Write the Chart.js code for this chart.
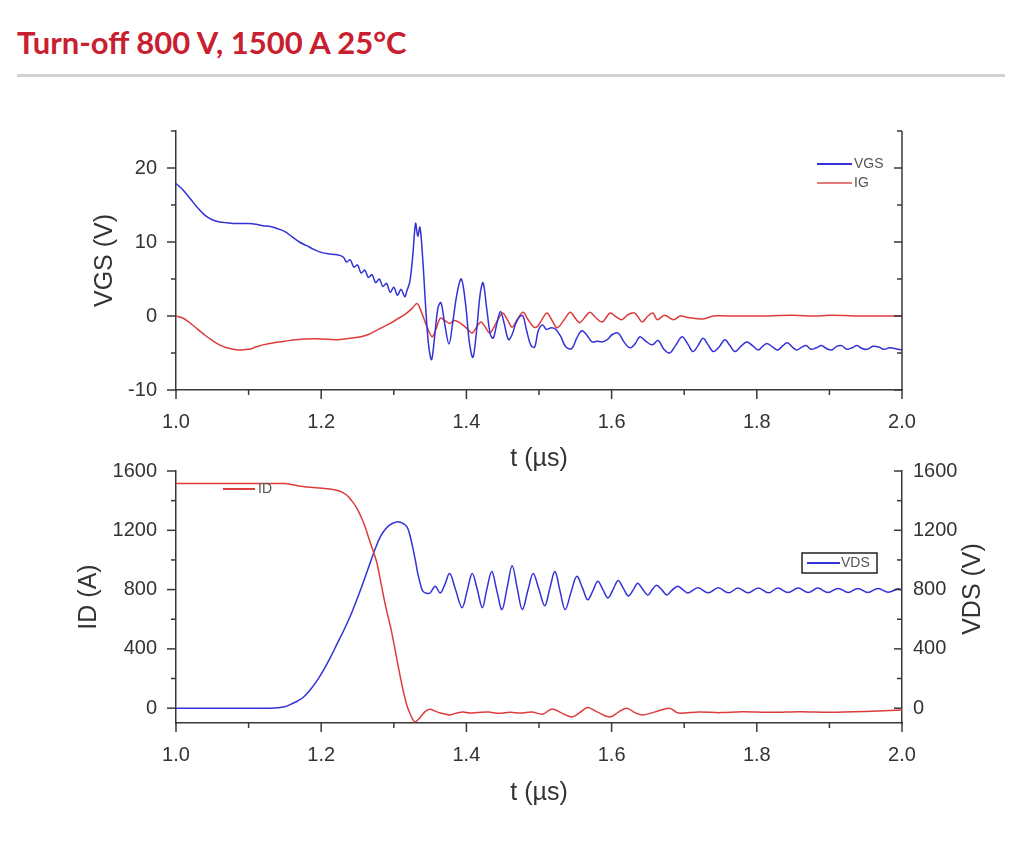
<!DOCTYPE html>
<html>
<head>
<meta charset="utf-8">
<title>Turn-off 800 V, 1500 A 25°C</title>
<script src="https://cdn.jsdelivr.net/npm/chart.js@4.4.0/dist/chart.umd.min.js"></script>
<style>
  body { margin: 0; background: #fff; width: 1034px; height: 846px; position: relative; overflow: hidden; }
  h1 { position: absolute; left: 17px; top: 23px; margin: 0; font: bold 31px Lato, sans-serif; color: #c8202f; white-space: nowrap; }
  .rule { position: absolute; left: 17px; top: 74px; width: 988px; height: 3px; background: #d2d2d2; }
  canvas { position: absolute; left: 0; }
  #topChart { top: 100px; }
  #bottomChart { top: 440px; }
</style>
</head>
<body>
<h1>Turn-off 800 V, 1500 A 25°C</h1>
<div class="rule"></div>
<canvas id="topChart" width="1034" height="380"></canvas>
<canvas id="bottomChart" width="1034" height="380"></canvas>
<script>
// axis ticks
const tMajor = [1.0, 1.2, 1.4, 1.6, 1.8, 2.0];
const tMinor = [1.1, 1.3, 1.5, 1.7, 1.9];
const vgsMajor = [-10, 0, 10, 20];
const vgsMinor = [-5, 5, 15, 25];
const idMajor = [0, 400, 800, 1200, 1600];
const idMinor = [200, 600, 1000, 1400];

// VGS (V) vs t (µs)
const vgsT = [1.000, 1.010, 1.020, 1.030, 1.040, 1.050, 1.060, 1.070, 1.085, 1.100, 1.110, 1.120, 1.130, 1.140, 1.150,
  1.160, 1.170, 1.180, 1.190, 1.200, 1.210, 1.220, 1.230, 1.235, 1.240, 1.245, 1.250, 1.255, 1.260, 1.265, 1.270,
  1.275, 1.280, 1.285, 1.290, 1.295, 1.300, 1.305, 1.310, 1.315, 1.318, 1.322, 1.326, 1.330, 1.333, 1.336, 1.340,
  1.344, 1.348, 1.352, 1.356, 1.361, 1.365, 1.370, 1.376, 1.381, 1.387, 1.393, 1.399, 1.404, 1.409, 1.414, 1.419,
  1.423, 1.428, 1.433, 1.437, 1.442, 1.447, 1.452, 1.458, 1.463, 1.468, 1.474, 1.478, 1.483, 1.489, 1.494, 1.499,
  1.505, 1.510, 1.517, 1.523, 1.530, 1.537, 1.545, 1.552, 1.559, 1.566, 1.573, 1.580, 1.587, 1.594, 1.601, 1.609,
  1.617, 1.625, 1.632, 1.639, 1.647, 1.656, 1.664, 1.672, 1.680, 1.688, 1.697, 1.705, 1.712, 1.719, 1.726, 1.733,
  1.740, 1.748, 1.756, 1.763, 1.770, 1.778, 1.786, 1.794, 1.802, 1.808, 1.814, 1.822, 1.829, 1.836, 1.842, 1.849,
  1.855, 1.862, 1.868, 1.875, 1.882, 1.889, 1.896, 1.903, 1.910, 1.917, 1.924, 1.931, 1.938, 1.945, 1.952, 1.960,
  1.968, 1.975, 1.983, 1.990, 2.000];
const vgsV = [17.9, 17.0, 15.8, 14.6, 13.6, 13.0, 12.7, 12.6, 12.5, 12.5, 12.4, 12.2, 12.1, 11.8, 11.4,
  10.7, 10.0, 9.5, 9.0, 8.6, 8.4, 8.3, 8.0, 7.3, 7.6, 6.6, 6.9, 5.8, 6.2, 5.2, 5.6,
  4.5, 5.0, 4.0, 4.4, 3.2, 3.9, 2.8, 3.6, 2.6, 3.4, 4.6, 8.0, 12.5, 10.8, 12.0, 7.5,
  1.0, -4.0, -5.9, -3.0, 1.2, 1.8, -1.0, -3.8, -1.0, 3.0, 5.0, 1.5, -3.5, -5.6, -2.0, 3.0,
  4.5, 1.0, -2.5, -3.0, -1.0, 0.6, -1.0, -3.2, -2.5, -1.0, 0.0, 0.0, -2.0, -4.0, -4.2, -2.0,
  -1.2, -1.8, -1.6, -1.8, -2.8, -4.2, -4.4, -3.0, -2.0, -2.6, -3.5, -3.4, -3.5, -3.2, -2.5, -2.3,
  -3.5, -4.3, -3.8, -2.8, -3.4, -3.9, -3.3, -4.5, -5.0, -4.0, -2.8, -3.8, -4.8, -4.0, -3.0, -3.9,
  -4.8, -4.2, -3.2, -4.0, -4.8, -4.1, -3.5, -4.0, -4.6, -4.1, -3.7, -4.2, -4.6, -4.0, -3.6, -4.2,
  -4.6, -4.2, -4.0, -4.5, -4.3, -4.0, -4.4, -4.6, -4.1, -4.0, -4.5, -4.3, -4.0, -4.4, -4.5, -4.1,
  -4.2, -4.5, -4.3, -4.4, -4.6];

// IG, same axis as VGS
const igT = [1.000, 1.010, 1.020, 1.030, 1.040, 1.050, 1.060, 1.070, 1.085, 1.100, 1.110, 1.120, 1.135, 1.150, 1.165,
  1.180, 1.200, 1.220, 1.240, 1.255, 1.265, 1.275, 1.285, 1.295, 1.305, 1.315, 1.325, 1.332, 1.337, 1.342, 1.348,
  1.353, 1.358, 1.364, 1.370, 1.377, 1.383, 1.389, 1.395, 1.402, 1.408, 1.414, 1.420, 1.426, 1.432, 1.438, 1.444,
  1.450, 1.457, 1.463, 1.470, 1.478, 1.485, 1.493, 1.498, 1.504, 1.511, 1.518, 1.525, 1.534, 1.543, 1.550, 1.556,
  1.563, 1.570, 1.578, 1.587, 1.598, 1.606, 1.614, 1.623, 1.632, 1.642, 1.650, 1.657, 1.663, 1.673, 1.685, 1.695,
  1.705, 1.726, 1.740, 1.760, 1.800, 1.850, 1.880, 1.900, 1.950, 2.000];
const igV = [0.0, -0.3, -1.0, -1.8, -2.6, -3.3, -3.9, -4.3, -4.6, -4.5, -4.2, -3.9, -3.6, -3.4, -3.2,
  -3.1, -3.1, -3.2, -3.0, -2.8, -2.5, -2.0, -1.5, -1.0, -0.4, 0.2, 1.0, 1.7, 0.8, -0.5, -2.0,
  -2.8, -1.8, -0.3, -0.6, -1.0, -0.6, -0.8, -1.2, -1.8, -2.3, -1.5, -0.8, -1.5, -2.3, -1.5, -0.4,
  0.4, -0.6, -1.5, -0.5, 0.5, -0.5, -1.5, -1.4, -0.5, 0.4, -0.6, -1.6, -0.6, 0.5, -0.3, -0.9,
  -0.2, 0.5, -0.2, -0.8, 0.4, -0.1, -0.5, 0.2, 0.4, -0.8, 0.0, 0.4, -0.5, 0.1, -0.5, 0.0,
  -0.2, -0.4, 0.0, 0.0, 0.0, 0.1, 0.0, 0.1, 0.0, 0.0];

// ID (A)
const idT = [1.000, 1.150, 1.160, 1.175, 1.190, 1.205, 1.216, 1.225, 1.235, 1.242, 1.249, 1.255, 1.260, 1.267, 1.273,
  1.277, 1.285, 1.290, 1.295, 1.300, 1.304, 1.309, 1.313, 1.318, 1.322, 1.326, 1.329, 1.334, 1.339, 1.344, 1.350,
  1.357, 1.364, 1.371, 1.377, 1.385, 1.395, 1.405, 1.415, 1.430, 1.445, 1.460, 1.475, 1.490, 1.505, 1.518, 1.530,
  1.545, 1.556, 1.567, 1.580, 1.598, 1.610, 1.621, 1.632, 1.643, 1.660, 1.680, 1.690, 1.700, 1.720, 1.750, 1.780,
  1.820, 1.860, 1.900, 1.950, 2.000];
const idV = [1515, 1515, 1508, 1495, 1488, 1482, 1476, 1465, 1438, 1400, 1350, 1290, 1230, 1126, 1040,
  974, 777, 660, 560, 440, 336, 210, 118, 20, -33, -75, -92, -75, -46, -20, -7,
  -20, -33, -40, -46, -35, -26, -33, -30, -26, -35, -28, -33, -26, -40, -5, -30,
  -59, -30, 5, -25, -59, -25, 0, -30, -46, -25, 0, -30, -33, -26, -30, -24,
  -28, -24, -27, -22, -13];

// VDS (V)
const vdsT = [1.000, 1.130, 1.150, 1.161, 1.168, 1.175, 1.185, 1.194, 1.203, 1.212, 1.221, 1.230, 1.240, 1.249, 1.258,
  1.267, 1.274, 1.281, 1.288, 1.295, 1.301, 1.306, 1.312, 1.318, 1.322, 1.326, 1.330, 1.333, 1.337, 1.340, 1.345,
  1.350, 1.357, 1.364, 1.370, 1.377, 1.385, 1.394, 1.401, 1.408, 1.415, 1.422, 1.428, 1.435, 1.442, 1.449, 1.456,
  1.463, 1.470, 1.477, 1.485, 1.492, 1.500, 1.508, 1.515, 1.522, 1.529, 1.536, 1.544, 1.552, 1.560, 1.567, 1.574,
  1.581, 1.588, 1.595, 1.602, 1.609, 1.616, 1.623, 1.630, 1.636, 1.643, 1.650, 1.656, 1.662, 1.669, 1.676, 1.683,
  1.691, 1.698, 1.705, 1.719, 1.733, 1.747, 1.761, 1.774, 1.788, 1.802, 1.816, 1.829, 1.843, 1.857, 1.871, 1.884,
  1.898, 1.912, 1.926, 1.939, 1.953, 1.967, 1.981, 1.995, 2.000];
const vdsV = [0, 0, 10, 33, 50, 72, 125, 184, 255, 336, 425, 514, 620, 731, 850,
  974, 1070, 1152, 1205, 1238, 1252, 1258, 1248, 1225, 1170, 1086, 990, 909, 830, 790, 775,
  777, 823, 777, 830, 909, 800, 678, 790, 909, 800, 678, 800, 922, 790, 665, 810,
  961, 810, 665, 800, 909, 800, 691, 810, 922, 790, 665, 780, 889, 810, 731, 790,
  856, 800, 744, 800, 862, 810, 757, 800, 843, 800, 764, 800, 830, 800, 764, 795,
  823, 800, 777, 812, 778, 812, 778, 810, 778, 810, 778, 810, 780, 810, 780, 810,
  780, 808, 780, 808, 780, 808, 782, 805, 795];

const BLUE = '#3232d6';
const RED = '#dc3c3c';
const AXIS = '#383838';
const FONT = 'Arial, "Liberation Sans", sans-serif';

Chart.defaults.font.family = FONT;
Chart.defaults.color = '#333';

function pts(ts, vs) {
    return ts.map((t, i) => ({ x: t, y: vs[i] }));
}

function lineSet(label, data, color, axis) {
    return {
        label: label,
        data: data,
        borderColor: color,
        borderWidth: 1.5,
        pointRadius: 0,
        tension: 0.35,
        yAxisID: axis || 'y'
    };
}

// minor/major tick marks, right frame line, legend and right title
const axisDecor = {
    id: 'axisDecor',
    afterDraw(chart, args, opts) {
        const { ctx, chartArea: a, scales } = chart;
        const sx = scales.x, sy = scales.y;
        const seg = (x1, y1, x2, y2) => { ctx.beginPath(); ctx.moveTo(x1, y1); ctx.lineTo(x2, y2); ctx.stroke(); };
        ctx.save();
        ctx.strokeStyle = AXIS;
        ctx.lineWidth = 1.5;
        tMajor.forEach(v => { const p = sx.getPixelForValue(v); seg(p, a.bottom, p, a.bottom + 9); });
        tMinor.forEach(v => { const p = sx.getPixelForValue(v); seg(p, a.bottom, p, a.bottom + 5); });
        opts.major.forEach(v => {
            const p = sy.getPixelForValue(v);
            seg(a.left - 9, p, a.left, p);
            seg(a.right - 8, p, a.right, p);
        });
        opts.minor.forEach(v => {
            const p = sy.getPixelForValue(v);
            seg(a.left - 5, p, a.left, p);
            seg(a.right - 5, p, a.right, p);
        });
        if (opts.rightBorder) seg(a.right, a.top, a.right, a.bottom);

        ctx.font = '14px ' + FONT;
        ctx.textBaseline = 'middle';
        ctx.textAlign = 'left';
        opts.legend.forEach(it => {
            if (it.box) {
                ctx.strokeStyle = '#222';
                ctx.lineWidth = 1.5;
                ctx.strokeRect(it.box[0], it.box[1], it.box[2], it.box[3]);
            }
            ctx.strokeStyle = it.color;
            ctx.lineWidth = 2;
            seg(it.x1, it.y, it.x2, it.y);
            ctx.fillStyle = '#555';
            ctx.fillText(it.text, it.tx, it.y);
        });

        if (opts.rightTitle) {
            const r = opts.rightTitle;
            ctx.translate(r.x, r.y);
            ctx.rotate(-Math.PI / 2);
            ctx.textAlign = 'center';
            ctx.fillStyle = '#333';
            ctx.font = '25px ' + FONT;
            ctx.fillText(r.text, 0, 0);
        }
        ctx.restore();
    }
};

function xScale(height, titlePad) {
    return {
        type: 'linear',
        min: 1.0,
        max: 2.0,
        afterBuildTicks: s => { s.ticks = tMajor.map(v => ({ value: v })); },
        afterFit: s => { s.height = height; },
        ticks: { padding: 20, font: { size: 20 }, callback: v => v.toFixed(1) },
        grid: { display: false, drawTicks: false },
        border: { display: true, color: AXIS, width: 1.5 },
        title: { display: true, text: 't (µs)', font: { size: 25 }, color: '#333', padding: { top: 0, bottom: titlePad } }
    };
}

function yScale(min, max, major, width, title, titlePad, pos) {
    const s = {
        type: 'linear',
        position: pos || 'left',
        min: min,
        max: max,
        afterBuildTicks: sc => { sc.ticks = major.map(v => ({ value: v })); },
        afterFit: sc => { sc.width = width; },
        ticks: { padding: pos === 'right' ? 11 : 19, font: { size: 20 }, callback: v => String(v) },
        grid: { display: false, drawTicks: false },
        border: { display: true, color: AXIS, width: 1.5 }
    };
    if (title) {
        s.title = { display: true, text: title, font: { size: 25 }, color: '#333', padding: { top: titlePad, bottom: 0 } };
    }
    return s;
}

new Chart(document.getElementById('topChart'), {
    type: 'line',
    data: {
        datasets: [
            lineSet('VGS', pts(vgsT, vgsV), BLUE),
            lineSet('IG', pts(igT, igV), RED)
        ]
    },
    options: {
        responsive: false,
        animation: false,
        layout: { padding: { top: 31, right: 132, left: 0, bottom: 0 } },
        scales: {
            x: xScale(90, 6),
            y: yScale(-10, 25, vgsMajor, 176, 'VGS (V)', 90)
        },
        plugins: {
            legend: { display: false },
            tooltip: { enabled: false },
            axisDecor: {
                major: vgsMajor,
                minor: vgsMinor,
                rightBorder: true,
                legend: [
                    { text: 'VGS', color: BLUE, x1: 817, x2: 852, y: 64, tx: 854 },
                    { text: 'IG', color: '#e57a7a', x1: 817, x2: 852, y: 83, tx: 854 }
                ]
            }
        }
    },
    plugins: [axisDecor]
});

new Chart(document.getElementById('bottomChart'), {
    type: 'line',
    data: {
        datasets: [
            lineSet('ID', pts(idT, idV), RED),
            lineSet('VDS', pts(vdsT, vdsV), BLUE, 'y2')
        ]
    },
    options: {
        responsive: false,
        animation: false,
        layout: { padding: { top: 25, right: 0, left: 0, bottom: 0 } },
        scales: {
            x: xScale(97, 12),
            y: yScale(-100, 1600, idMajor, 176, 'ID (A)', 74),
            y2: yScale(-100, 1600, idMajor, 132, null, 0, 'right')
        },
        plugins: {
            legend: { display: false },
            tooltip: { enabled: false },
            axisDecor: {
                major: idMajor,
                minor: idMinor,
                rightBorder: false,
                legend: [
                    { text: 'ID', color: RED, x1: 223, x2: 255, y: 49, tx: 258 },
                    { text: 'VDS', color: BLUE, x1: 807, x2: 840, y: 123, tx: 841, box: [802, 113, 75, 20] }
                ],
                rightTitle: { text: 'VDS (V)', x: 973, y: 149 }
            }
        }
    },
    plugins: [axisDecor]
});
</script>
</body>
</html>
